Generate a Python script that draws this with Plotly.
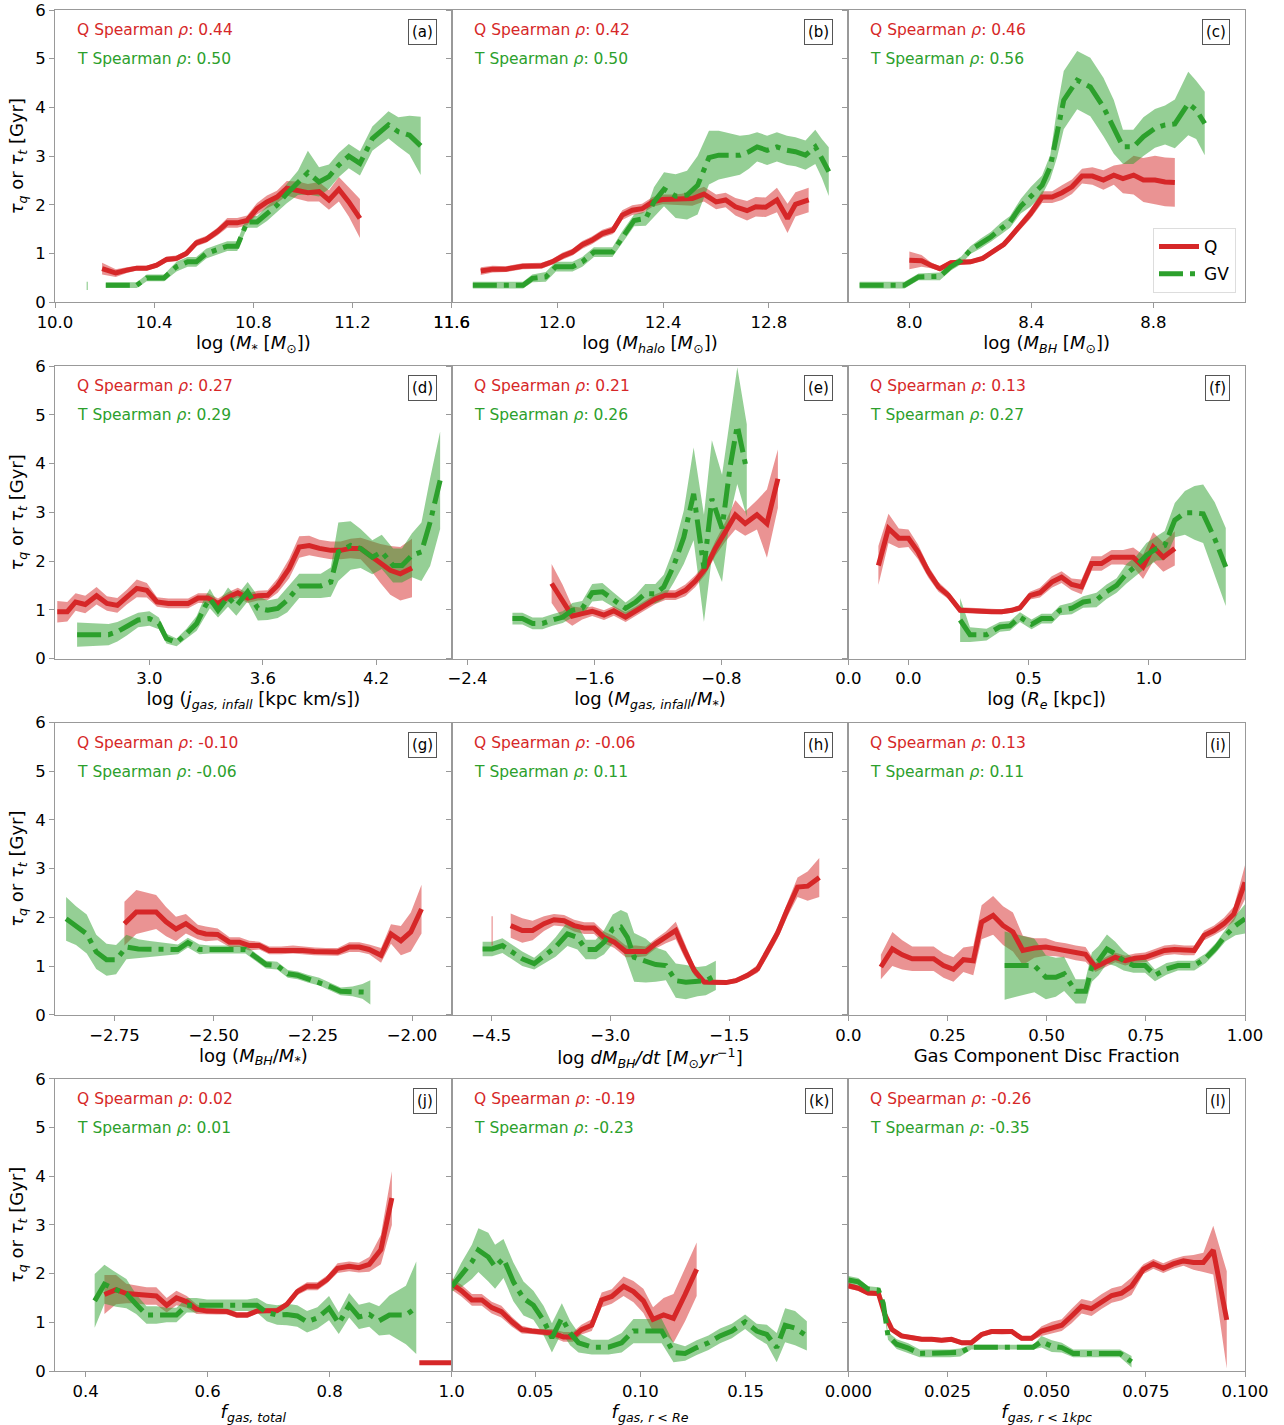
import plotly.graph_objects as go
from plotly.subplots import make_subplots

# ---------------- data ----------------
# (a) log M*
a_q_x = [10.19,10.245,10.29,10.33,10.37,10.41,10.45,10.49,10.53,10.57,10.61,10.655,10.695,10.735,10.775,10.815,10.855,10.895,10.935,10.98,11.02,11.065,11.105,11.145,11.185,11.23]
a_q_y = [0.69,0.60,0.66,0.70,0.70,0.76,0.88,0.90,1.00,1.22,1.29,1.45,1.63,1.63,1.68,1.92,2.06,2.16,2.34,2.30,2.25,2.27,2.10,2.32,2.06,1.72]
a_q_e = [0.12,0.08,0.06,0.05,0.05,0.05,0.06,0.06,0.06,0.07,0.07,0.08,0.1,0.1,0.1,0.12,0.13,0.13,0.15,0.18,0.18,0.2,0.2,0.25,0.3,0.4]
a_gv_x = [10.205,10.33,10.37,10.44,10.49,10.535,10.57,10.61,10.655,10.695,10.735,10.775,10.815,10.855,10.895,10.935,10.98,11.02,11.065,11.105,11.145,11.185,11.23,11.28,11.345,11.385,11.43,11.475]
a_gv_y = [0.35,0.35,0.50,0.50,0.73,0.83,0.83,1.00,1.08,1.15,1.15,1.65,1.65,1.82,1.99,2.23,2.45,2.66,2.47,2.58,2.82,3.00,2.85,3.36,3.64,3.50,3.43,3.21]
a_gv_e = [0.06,0.06,0.07,0.07,0.1,0.1,0.1,0.1,0.1,0.1,0.1,0.12,0.12,0.15,0.15,0.2,0.25,0.45,0.3,0.25,0.25,0.25,0.25,0.25,0.28,0.3,0.4,0.6]
a_gv_stub_x = [10.13, 10.13]
a_gv_stub_y = [0.25, 0.42]

# (b) log M_halo
b_q_x = [11.71,11.755,11.805,11.868,11.94,11.98,12.02,12.057,12.094,12.13,12.17,12.21,12.245,12.283,12.32,12.36,12.397,12.434,12.47,12.51,12.554,12.6,12.636,12.673,12.717,12.75,12.787,12.83,12.87,12.9,12.95]
b_q_y = [0.64,0.68,0.68,0.74,0.75,0.83,0.95,1.03,1.18,1.27,1.41,1.48,1.79,1.89,1.92,2.06,2.11,2.11,2.11,2.13,2.22,2.06,2.10,1.96,1.88,1.96,1.95,2.10,1.72,2.01,2.10]
b_q_e = [0.08,0.07,0.06,0.06,0.06,0.06,0.07,0.07,0.08,0.08,0.08,0.08,0.1,0.1,0.1,0.1,0.1,0.1,0.12,0.15,0.15,0.15,0.15,0.18,0.2,0.2,0.2,0.25,0.3,0.25,0.25]
b_gv_x = [11.68,11.87,11.905,11.956,11.994,12.057,12.094,12.138,12.208,12.245,12.29,12.334,12.365,12.403,12.447,12.49,12.53,12.573,12.61,12.65,12.69,12.724,12.755,12.793,12.83,12.868,12.9,12.938,12.975,13.0,13.026]
b_gv_y = [0.35,0.35,0.49,0.52,0.73,0.73,0.83,1.03,1.03,1.34,1.68,1.72,2.06,2.32,2.18,2.20,2.40,2.97,3.02,3.02,3.02,3.09,3.19,3.12,3.19,3.12,3.09,3.02,3.19,2.95,2.68]
b_gv_e = [0.07,0.07,0.08,0.1,0.1,0.1,0.1,0.1,0.1,0.12,0.12,0.15,0.3,0.35,0.45,0.5,0.6,0.55,0.5,0.45,0.4,0.35,0.3,0.3,0.3,0.3,0.3,0.3,0.35,0.4,0.5]

# (c) log M_BH
c_q_x = [8.0,8.04,8.07,8.10,8.136,8.17,8.2,8.24,8.27,8.31,8.33,8.365,8.397,8.435,8.468,8.5,8.533,8.566,8.6,8.636,8.67,8.7,8.735,8.767,8.805,8.838,8.87]
c_q_y = [0.86,0.85,0.76,0.69,0.81,0.82,0.83,0.90,1.03,1.19,1.33,1.58,1.82,2.16,2.16,2.25,2.37,2.59,2.59,2.51,2.61,2.54,2.61,2.51,2.51,2.47,2.46]
c_q_e = [0.18,0.12,0.06,0.05,0.05,0.05,0.05,0.05,0.05,0.06,0.07,0.08,0.1,0.12,0.12,0.15,0.15,0.15,0.18,0.2,0.2,0.3,0.4,0.45,0.5,0.5,0.5]
c_gv_x = [7.837,7.984,8.03,8.1,8.136,8.17,8.2,8.234,8.267,8.3,8.33,8.365,8.397,8.435,8.462,8.484,8.506,8.55,8.593,8.636,8.67,8.7,8.734,8.767,8.805,8.838,8.87,8.914,8.94,8.968]
c_gv_y = [0.35,0.35,0.52,0.53,0.73,0.86,1.07,1.21,1.34,1.51,1.65,1.97,2.16,2.40,2.78,3.47,4.15,4.56,4.42,4.01,3.60,3.19,3.19,3.40,3.57,3.64,3.66,4.08,3.95,3.67]
c_gv_e = [0.07,0.07,0.07,0.08,0.08,0.08,0.08,0.1,0.1,0.12,0.12,0.15,0.2,0.2,0.25,0.5,0.6,0.6,0.6,0.6,0.55,0.35,0.35,0.4,0.4,0.4,0.5,0.65,0.6,0.65]

# (d) log j_gas,infall
d_q_x = [2.512,2.565,2.609,2.66,2.72,2.775,2.83,2.88,2.933,2.986,3.04,3.1,3.15,3.205,3.258,3.31,3.363,3.416,3.468,3.52,3.574,3.626,3.679,3.74,3.793,3.846,3.9,3.96,4.012,4.065,4.118,4.17,4.223,4.275,4.328,4.39]
d_q_y = [0.96,0.96,1.16,1.11,1.29,1.13,1.09,1.26,1.44,1.40,1.16,1.13,1.13,1.13,1.24,1.24,1.13,1.26,1.35,1.24,1.29,1.30,1.50,1.85,2.29,2.32,2.26,2.22,2.22,2.26,2.26,2.12,1.95,1.81,1.74,1.86]
d_q_e = [0.22,0.2,0.18,0.18,0.18,0.15,0.15,0.15,0.18,0.15,0.1,0.1,0.1,0.1,0.1,0.1,0.1,0.1,0.1,0.1,0.1,0.1,0.15,0.2,0.22,0.2,0.18,0.18,0.18,0.2,0.22,0.3,0.4,0.5,0.55,0.6]
d_gv_x = [2.617,2.784,2.83,2.88,2.94,3.0,3.05,3.09,3.144,3.196,3.25,3.293,3.32,3.363,3.416,3.46,3.52,3.574,3.626,3.679,3.73,3.793,3.846,3.907,3.96,4.0,4.065,4.118,4.18,4.23,4.29,4.337,4.39,4.44,4.486,4.539]
d_gv_y = [0.49,0.49,0.55,0.65,0.79,0.82,0.72,0.41,0.33,0.51,0.72,1.06,1.23,0.99,1.26,1.08,1.37,1.03,0.99,1.03,1.20,1.49,1.49,1.49,1.57,2.19,2.32,2.26,2.08,2.19,1.91,1.91,2.12,2.19,2.80,3.66]
d_gv_e = [0.25,0.22,0.2,0.18,0.15,0.15,0.12,0.1,0.08,0.1,0.15,0.2,0.2,0.15,0.2,0.2,0.2,0.25,0.2,0.2,0.25,0.25,0.25,0.25,0.3,0.6,0.5,0.4,0.35,0.35,0.35,0.35,0.45,0.6,0.9,1.0]

# (e) log M_gas,infall / M*
e_q_x = [-1.87,-1.80,-1.74,-1.677,-1.614,-1.54,-1.478,-1.404,-1.34,-1.28,-1.216,-1.153,-1.09,-1.027,-0.964,-0.9,-0.838,-0.775,-0.712,-0.65,-0.576,-0.513,-0.444]
e_q_y = [1.54,1.16,0.87,0.92,0.97,0.89,0.98,0.85,0.97,1.09,1.22,1.30,1.30,1.40,1.59,1.85,2.26,2.60,2.95,2.77,2.95,2.77,3.69]
e_q_e = [0.4,0.35,0.2,0.12,0.1,0.1,0.1,0.1,0.1,0.1,0.1,0.1,0.1,0.12,0.12,0.12,0.15,0.2,0.3,0.25,0.3,0.7,0.6]
e_gv_x = [-2.117,-2.054,-1.99,-1.928,-1.865,-1.80,-1.74,-1.677,-1.614,-1.55,-1.478,-1.404,-1.34,-1.28,-1.216,-1.163,-1.1,-1.037,-0.975,-0.91,-0.86,-0.796,-0.744,-0.70,-0.64]
e_gv_y = [0.82,0.82,0.72,0.72,0.79,0.85,0.99,1.03,1.35,1.37,1.20,1.03,1.16,1.33,1.33,1.47,1.91,2.49,3.38,1.85,3.28,2.67,3.96,4.78,3.86]
e_gv_e = [0.12,0.12,0.12,0.12,0.12,0.12,0.15,0.15,0.18,0.18,0.15,0.12,0.15,0.2,0.2,0.25,0.35,0.55,0.95,1.1,1.2,1.1,1.0,1.2,0.95]

# (f) log R_e
f_q_x = [-0.125,-0.083,-0.04,0.0,0.04,0.083,0.125,0.166,0.215,0.256,0.305,0.346,0.388,0.43,0.464,0.505,0.547,0.596,0.637,0.679,0.72,0.762,0.803,0.845,0.893,0.935,0.976,1.018,1.06,1.108]
f_q_y = [1.91,2.67,2.47,2.47,2.19,1.78,1.47,1.30,0.99,0.99,0.97,0.96,0.96,0.99,1.04,1.29,1.35,1.57,1.67,1.52,1.47,1.95,1.95,2.08,2.08,2.08,1.88,2.29,2.08,2.26]
f_q_e = [0.4,0.3,0.2,0.18,0.15,0.12,0.1,0.08,0.06,0.05,0.05,0.05,0.05,0.05,0.06,0.08,0.1,0.12,0.12,0.12,0.15,0.15,0.15,0.15,0.15,0.2,0.25,0.3,0.3,0.35]
f_gv_x = [0.215,0.256,0.325,0.38,0.422,0.464,0.512,0.554,0.596,0.63,0.679,0.727,0.782,0.824,0.866,0.907,0.949,0.99,1.032,1.066,1.108,1.15,1.19,1.226,1.274,1.32]
f_gv_y = [0.79,0.49,0.49,0.65,0.67,0.85,0.70,0.82,0.82,0.99,1.03,1.16,1.20,1.37,1.50,1.74,1.91,2.12,2.26,2.32,2.84,2.99,2.99,2.97,2.46,1.88]
f_gv_e = [0.45,0.15,0.12,0.1,0.1,0.1,0.1,0.1,0.1,0.1,0.12,0.12,0.15,0.15,0.15,0.2,0.2,0.25,0.25,0.3,0.35,0.45,0.55,0.6,0.75,0.8]

# (g) log M_BH / M*
g_q_x = [-2.725,-2.695,-2.67,-2.645,-2.62,-2.595,-2.57,-2.54,-2.52,-2.49,-2.46,-2.435,-2.41,-2.385,-2.36,-2.33,-2.30,-2.276,-2.246,-2.217,-2.187,-2.158,-2.133,-2.108,-2.078,-2.053,-2.028,-2.003,-1.976]
g_q_y = [1.87,2.11,2.11,2.11,1.91,1.76,1.87,1.70,1.66,1.65,1.49,1.49,1.42,1.42,1.32,1.32,1.34,1.32,1.30,1.29,1.29,1.39,1.39,1.34,1.22,1.66,1.52,1.70,2.17]
g_q_e = [0.45,0.45,0.4,0.35,0.3,0.25,0.2,0.15,0.15,0.12,0.1,0.1,0.1,0.08,0.08,0.08,0.08,0.08,0.08,0.08,0.08,0.1,0.1,0.1,0.15,0.2,0.3,0.4,0.5]
g_gv_x = [-2.872,-2.847,-2.82,-2.796,-2.77,-2.746,-2.72,-2.69,-2.666,-2.64,-2.616,-2.59,-2.565,-2.536,-2.51,-2.48,-2.452,-2.42,-2.393,-2.368,-2.34,-2.313,-2.288,-2.263,-2.234,-2.204,-2.18,-2.15,-2.125,-2.105]
g_gv_y = [1.97,1.83,1.66,1.29,1.13,1.13,1.39,1.35,1.35,1.34,1.34,1.34,1.48,1.34,1.34,1.34,1.34,1.34,1.18,1.03,1.01,0.84,0.81,0.74,0.68,0.57,0.48,0.48,0.48,0.46]
g_gv_e = [0.45,0.4,0.4,0.35,0.33,0.3,0.25,0.2,0.17,0.15,0.12,0.1,0.1,0.1,0.08,0.08,0.08,0.08,0.08,0.08,0.08,0.08,0.08,0.08,0.08,0.08,0.08,0.1,0.15,0.25]

# (h) log dM_BH/dt
h_q_x = [-4.256,-4.11,-3.98,-3.836,-3.71,-3.583,-3.457,-3.33,-3.205,-3.08,-2.95,-2.805,-2.68,-2.553,-2.427,-2.3,-2.175,-2.07,-1.943,-1.817,-1.69,-1.544,-1.418,-1.27,-1.144,-1.018,-0.892,-0.766,-0.64,-0.513,-0.366]
h_q_y = [1.83,1.73,1.73,1.87,1.95,1.93,1.83,1.78,1.78,1.59,1.49,1.30,1.30,1.30,1.46,1.59,1.73,1.34,0.91,0.67,0.66,0.66,0.70,0.81,0.94,1.29,1.68,2.17,2.62,2.64,2.82]
h_q_e = [0.25,0.25,0.2,0.15,0.12,0.12,0.12,0.12,0.12,0.12,0.12,0.12,0.12,0.1,0.1,0.12,0.18,0.15,0.1,0.05,0.05,0.05,0.05,0.06,0.08,0.1,0.12,0.15,0.2,0.3,0.4]
h_q_stub_x = [-4.49, -4.49]
h_q_stub_y = [1.42, 2.02]
h_gv_x = [-4.61,-4.49,-4.36,-4.235,-4.11,-3.96,-3.815,-3.69,-3.54,-3.415,-3.31,-3.184,-3.078,-2.97,-2.868,-2.785,-2.7,-2.553,-2.427,-2.3,-2.175,-2.048,-1.9,-1.796,-1.67]
h_gv_y = [1.35,1.35,1.42,1.29,1.15,1.05,1.22,1.39,1.66,1.59,1.34,1.34,1.49,1.76,1.80,1.59,1.18,1.11,1.03,1.01,0.70,0.67,0.68,0.70,0.81]
h_gv_e = [0.15,0.15,0.15,0.15,0.15,0.12,0.15,0.2,0.25,0.25,0.2,0.2,0.25,0.3,0.35,0.5,0.5,0.45,0.35,0.3,0.35,0.35,0.3,0.3,0.3]

# (i) gas component disc fraction
i_q_x = [0.082,0.111,0.136,0.161,0.186,0.215,0.24,0.265,0.29,0.315,0.336,0.365,0.39,0.415,0.44,0.469,0.498,0.523,0.548,0.573,0.598,0.623,0.648,0.673,0.698,0.723,0.748,0.773,0.797,0.822,0.847,0.872,0.897,0.922,0.947,0.972,1.0]
i_q_y = [0.98,1.35,1.23,1.15,1.15,1.15,1.01,0.93,1.13,1.11,1.90,2.04,1.83,1.70,1.32,1.37,1.39,1.35,1.32,1.27,1.24,0.98,1.08,1.18,1.11,1.16,1.18,1.25,1.32,1.34,1.32,1.32,1.63,1.73,1.87,2.07,2.72]
i_q_e = [0.25,0.35,0.3,0.25,0.25,0.25,0.25,0.25,0.25,0.3,0.35,0.4,0.4,0.4,0.3,0.2,0.18,0.15,0.15,0.15,0.15,0.1,0.1,0.1,0.1,0.1,0.1,0.1,0.1,0.1,0.1,0.1,0.1,0.1,0.12,0.15,0.35]
i_gv_x = [0.394,0.469,0.498,0.523,0.544,0.573,0.598,0.614,0.631,0.652,0.673,0.694,0.719,0.748,0.773,0.802,0.831,0.872,0.901,0.926,0.951,0.976,1.0]
i_gv_y = [1.01,1.01,0.77,0.77,0.84,0.48,0.48,0.98,1.11,1.35,1.25,1.11,1.01,1.01,0.81,0.94,1.01,1.01,1.16,1.37,1.63,1.83,1.97]
i_gv_e = [0.7,0.55,0.45,0.4,0.35,0.25,0.25,0.3,0.3,0.3,0.25,0.2,0.15,0.15,0.12,0.12,0.1,0.1,0.1,0.1,0.12,0.2,0.3]

# (j) f_gas,total
j_q_x = [0.431,0.45,0.467,0.483,0.5,0.516,0.533,0.549,0.566,0.582,0.599,0.615,0.632,0.648,0.665,0.681,0.697,0.714,0.73,0.747,0.763,0.78,0.796,0.813,0.832,0.848,0.865,0.884,0.902]
j_q_y = [1.57,1.67,1.59,1.57,1.54,1.54,1.35,1.50,1.42,1.27,1.23,1.22,1.22,1.15,1.15,1.23,1.24,1.24,1.37,1.63,1.74,1.74,1.88,2.11,2.15,2.12,2.19,2.49,3.55]
j_q_e = [0.4,0.3,0.2,0.18,0.18,0.18,0.15,0.15,0.12,0.1,0.06,0.06,0.06,0.06,0.06,0.05,0.05,0.06,0.06,0.07,0.08,0.08,0.08,0.1,0.1,0.1,0.15,0.3,0.55]
j_q_tail_x = [0.947, 1.0]
j_q_tail_y = [0.17, 0.17]
j_gv_x = [0.415,0.431,0.45,0.467,0.483,0.5,0.516,0.533,0.549,0.566,0.582,0.599,0.615,0.632,0.648,0.665,0.681,0.697,0.714,0.73,0.747,0.763,0.78,0.799,0.815,0.832,0.848,0.865,0.881,0.898,0.925,0.942]
j_gv_y = [1.44,1.78,1.67,1.59,1.37,1.15,1.15,1.15,1.15,1.35,1.35,1.35,1.35,1.35,1.35,1.35,1.35,1.20,1.15,1.16,1.13,1.01,1.09,1.29,0.98,1.35,1.11,1.16,1.03,1.15,1.15,1.30]
j_gv_e = [0.55,0.4,0.35,0.3,0.2,0.18,0.18,0.15,0.15,0.15,0.15,0.12,0.12,0.12,0.12,0.12,0.15,0.18,0.2,0.22,0.22,0.22,0.22,0.25,0.22,0.25,0.25,0.25,0.3,0.4,0.6,0.95]

# (k) f_gas, r<Re
k_q_x = [0.0104,0.015,0.02,0.0247,0.0294,0.034,0.039,0.0437,0.0484,0.053,0.058,0.0635,0.068,0.072,0.0769,0.0816,0.0864,0.092,0.0967,0.1014,0.106,0.111,0.1157,0.1212,0.1267]
k_q_y = [1.79,1.65,1.46,1.46,1.30,1.22,1.01,0.85,0.82,0.80,0.78,0.70,0.70,0.85,0.94,1.46,1.53,1.74,1.63,1.44,1.06,1.15,1.08,1.57,2.09]
k_q_e = [0.12,0.12,0.12,0.12,0.12,0.12,0.1,0.08,0.06,0.06,0.08,0.1,0.1,0.1,0.12,0.15,0.15,0.2,0.22,0.25,0.25,0.35,0.5,0.55,0.55]
k_gv_x = [0.0104,0.015,0.02,0.0231,0.0278,0.031,0.035,0.0397,0.0445,0.0492,0.054,0.058,0.0627,0.0666,0.0706,0.0769,0.0848,0.0911,0.0967,0.1022,0.1101,0.1157,0.1212,0.1267,0.1323,0.1378,0.1434,0.1497,0.1552,0.16,0.1647,0.1687,0.1734,0.179]
k_gv_y = [1.73,1.97,2.24,2.48,2.34,2.14,2.31,1.83,1.49,1.35,1.04,0.68,1.09,0.78,0.58,0.49,0.49,0.58,0.82,0.82,0.82,0.38,0.36,0.48,0.58,0.72,0.82,1.01,0.82,0.75,0.48,0.94,0.88,0.72]
k_gv_e = [0.1,0.25,0.35,0.45,0.5,0.45,0.4,0.4,0.35,0.3,0.3,0.3,0.3,0.25,0.2,0.15,0.15,0.2,0.25,0.25,0.25,0.2,0.15,0.15,0.15,0.15,0.15,0.15,0.15,0.2,0.3,0.35,0.35,0.3]

# (l) f_gas, r<1kpc
l_q_x = [0.0,0.0025,0.005,0.0076,0.0092,0.011,0.0134,0.016,0.0185,0.021,0.0235,0.026,0.0286,0.031,0.0336,0.0361,0.0387,0.0412,0.0437,0.0462,0.0487,0.0513,0.0538,0.0563,0.0588,0.0613,0.0639,0.0664,0.0689,0.0714,0.0744,0.0769,0.0794,0.0819,0.0845,0.087,0.0895,0.092,0.0954]
l_q_y = [1.75,1.70,1.60,1.59,1.16,0.85,0.72,0.68,0.65,0.65,0.63,0.65,0.58,0.58,0.75,0.81,0.80,0.81,0.67,0.67,0.82,0.89,0.94,1.13,1.33,1.28,1.43,1.55,1.60,1.74,2.09,2.20,2.11,2.20,2.26,2.23,2.23,2.48,1.05]
l_q_e = [0.06,0.05,0.05,0.05,0.05,0.05,0.05,0.05,0.05,0.05,0.05,0.05,0.05,0.05,0.05,0.05,0.05,0.05,0.05,0.05,0.1,0.12,0.12,0.15,0.15,0.15,0.15,0.15,0.15,0.18,0.1,0.1,0.1,0.1,0.1,0.15,0.2,0.5,1.0]
l_gv_x = [0.0,0.0025,0.005,0.0076,0.0088,0.01,0.0122,0.0151,0.018,0.0256,0.0282,0.031,0.0408,0.0466,0.0487,0.0513,0.0538,0.0567,0.0609,0.0685,0.0714]
l_gv_y = [1.87,1.83,1.68,1.66,1.39,0.72,0.55,0.47,0.36,0.36,0.38,0.49,0.49,0.49,0.60,0.51,0.48,0.36,0.36,0.36,0.19]
l_gv_e = [0.08,0.08,0.06,0.06,0.06,0.08,0.1,0.1,0.08,0.08,0.08,0.05,0.05,0.05,0.12,0.12,0.1,0.08,0.08,0.08,0.12]

# Spearman coefficients (Q, T)
rho_q = ["0.44", "0.42", "0.46", "0.27", "0.21", "0.13", "-0.10", "-0.06", "0.13", "0.02", "-0.19", "-0.26"]
rho_t = ["0.50", "0.50", "0.56", "0.29", "0.26", "0.27", "-0.06", "0.11", "0.11", "0.01", "-0.23", "-0.35"]
letters = ["a", "b", "c", "d", "e", "f", "g", "h", "i", "j", "k", "l"]

x_titles = [
    "log (<i>M</i><sub>*</sub> [<i>M</i><sub>⊙</sub>])",
    "log (<i>M<sub>halo</sub></i> [<i>M</i><sub>⊙</sub>])",
    "log (<i>M<sub>BH</sub></i> [<i>M</i><sub>⊙</sub>])",
    "log (<i>j<sub>gas, infall</sub></i> [kpc km/s])",
    "log (<i>M<sub>gas, infall</sub></i>/<i>M</i><sub>*</sub>)",
    "log (<i>R<sub>e</sub></i> [kpc])",
    "log (<i>M<sub>BH</sub></i>/<i>M</i><sub>*</sub>)",
    "log <i>dM<sub>BH</sub>/dt</i> [<i>M</i><sub>⊙</sub><i>yr</i><sup>−1</sup>]",
    "Gas Component Disc Fraction",
    "<i>f<sub>gas, total</sub></i>",
    "<i>f<sub>gas, r &lt; Re</sub></i>",
    "<i>f<sub>gas, r &lt; 1kpc</sub></i>",
]
y_title = "<i>τ<sub>q</sub></i> or <i>τ<sub>t</sub></i> [Gyr]"

x_ranges = [[10.0, 11.6], [11.6, 13.1], [7.8, 9.1],
            [2.5, 4.6], [-2.5, 0.0], [-0.25, 1.4],
            [-2.9, -1.9], [-5.0, 0.0], [0.0, 1.0],
            [0.35, 1.0], [0.0104, 0.1987], [0.0, 0.1]]
x_tickvals = [[10.0, 10.4, 10.8, 11.2, 11.6], [11.6, 12.0, 12.4, 12.8], [8.0, 8.4, 8.8],
              [3.0, 3.6, 4.2], [-2.4, -1.6, -0.8, 0.0], [0.0, 0.5, 1.0],
              [-2.75, -2.5, -2.25, -2.0], [-4.5, -3.0, -1.5, 0.0], [0.25, 0.5, 0.75, 1.0],
              [0.4, 0.6, 0.8, 1.0], [0.05, 0.10, 0.15], [0.0, 0.025, 0.05, 0.075, 0.1]]
x_fmts = [".1f", ".1f", ".1f", ".1f", ".1f", ".1f", ".2f", ".1f", ".2f", ".1f", ".2f", ".3f"]
y_ticks = [0, 1, 2, 3, 4, 5, 6]

q_data = [(a_q_x, a_q_y, a_q_e), (b_q_x, b_q_y, b_q_e), (c_q_x, c_q_y, c_q_e),
          (d_q_x, d_q_y, d_q_e), (e_q_x, e_q_y, e_q_e), (f_q_x, f_q_y, f_q_e),
          (g_q_x, g_q_y, g_q_e), (h_q_x, h_q_y, h_q_e), (i_q_x, i_q_y, i_q_e),
          (j_q_x, j_q_y, j_q_e), (k_q_x, k_q_y, k_q_e), (l_q_x, l_q_y, l_q_e)]
gv_data = [(a_gv_x, a_gv_y, a_gv_e), (b_gv_x, b_gv_y, b_gv_e), (c_gv_x, c_gv_y, c_gv_e),
           (d_gv_x, d_gv_y, d_gv_e), (e_gv_x, e_gv_y, e_gv_e), (f_gv_x, f_gv_y, f_gv_e),
           (g_gv_x, g_gv_y, g_gv_e), (h_gv_x, h_gv_y, h_gv_e), (i_gv_x, i_gv_y, i_gv_e),
           (j_gv_x, j_gv_y, j_gv_e), (k_gv_x, k_gv_y, k_gv_e), (l_gv_x, l_gv_y, l_gv_e)]

# ---------------- styling ----------------
RED = "#d62728"
GREEN = "#2ca02c"
RED_BAND = "rgba(214,39,40,0.5)"
GREEN_BAND = "rgba(44,160,44,0.5)"
FRAME = "#999999"
FONT = "DejaVu Sans"
GV_DASH = "24px,7px,5px,7px"
TICK_SIZE = 16.5
TITLE_SIZE = 18

W, H = 1284, 1425
ML, MR, MT, MB = 55, 39, 10, 54
plot_h = H - MT - MB
plot_w = W - ML - MR

fig = make_subplots(rows=4, cols=3, horizontal_spacing=0,
                    vertical_spacing=64 / plot_h)


def band(xs, ys, es, color, row, col):
    hi = [y + e for y, e in zip(ys, es)]
    lo = [y - e for y, e in zip(ys, es)]
    fig.add_trace(go.Scatter(x=list(xs) + list(xs)[::-1], y=hi + lo[::-1],
                             fill="toself", fillcolor=color, mode="lines",
                             line=dict(width=0), hoverinfo="skip",
                             showlegend=False), row=row, col=col)


def stub(xs, ys, color, row, col):
    fig.add_trace(go.Scatter(x=xs, y=ys, mode="lines", line=dict(color=color, width=1.2),
                             hoverinfo="skip", showlegend=False), row=row, col=col)


for i in range(12):
    row, col = i // 3 + 1, i % 3 + 1
    qx, qy, qe = q_data[i]
    gx, gy, ge = gv_data[i]
    band(qx, qy, qe, RED_BAND, row, col)
    band(gx, gy, ge, GREEN_BAND, row, col)
    if i == 0:
        stub(a_gv_stub_x, a_gv_stub_y, GREEN_BAND, row, col)
    if i == 7:
        stub(h_q_stub_x, h_q_stub_y, RED_BAND, row, col)
    fig.add_trace(go.Scatter(x=qx, y=qy, mode="lines", name="Q",
                             line=dict(color=RED, width=5),
                             showlegend=(i == 2), legendgroup="Q"),
                  row=row, col=col)
    if i == 9:
        fig.add_trace(go.Scatter(x=j_q_tail_x, y=j_q_tail_y, mode="lines",
                                 line=dict(color=RED, width=5),
                                 showlegend=False), row=row, col=col)
    fig.add_trace(go.Scatter(x=gx, y=gy, mode="lines", name="GV",
                             line=dict(color=GREEN, width=5, dash=GV_DASH),
                             showlegend=(i == 2), legendgroup="GV"),
                  row=row, col=col)

    fig.update_xaxes(row=row, col=col, range=x_ranges[i], tickvals=x_tickvals[i],
                     tickformat=x_fmts[i], showgrid=False, zeroline=False,
                     showline=True, mirror=True, linecolor=FRAME, linewidth=1,
                     ticks="outside", ticklen=5, tickcolor=FRAME, automargin=False,
                     tickfont=dict(family=FONT, size=TICK_SIZE, color="black"),
                     title=dict(text=x_titles[i], standoff=2,
                                font=dict(family=FONT, size=TITLE_SIZE, color="black")))
    yargs = dict(range=[0, 6], tickvals=y_ticks,
                 showgrid=False, zeroline=False, automargin=False,
                 showline=True, mirror=True, linecolor=FRAME, linewidth=1,
                 ticks="outside", ticklen=5, tickcolor=FRAME,
                 showticklabels=(col == 1),
                 tickfont=dict(family=FONT, size=TICK_SIZE, color="black"))
    if col == 1:
        yargs["title"] = dict(text=y_title, standoff=6,
                              font=dict(family=FONT, size=TITLE_SIZE, color="black"))
    fig.update_yaxes(row=row, col=col, **yargs)

    n = "" if i == 0 else str(i + 1)
    fig.add_annotation(xref=f"x{n} domain", yref=f"y{n} domain", x=0, y=1,
                       xanchor="left", yanchor="middle", xshift=20, yshift=-20,
                       text=f"Q Spearman <i>ρ</i>: {rho_q[i]}", showarrow=False,
                       font=dict(family=FONT, size=15.5, color=RED))
    fig.add_annotation(xref=f"x{n} domain", yref=f"y{n} domain", x=0, y=1,
                       xanchor="left", yanchor="middle", xshift=20, yshift=-49,
                       text=f"T Spearman <i>ρ</i>: {rho_t[i]}", showarrow=False,
                       font=dict(family=FONT, size=15.5, color=GREEN))
    fig.add_annotation(xref=f"x{n} domain", yref=f"y{n} domain", x=1, y=1,
                       xanchor="right", yanchor="top", xshift=-15, yshift=-9,
                       text=f"({letters[i]})", showarrow=False,
                       bordercolor="#555555", borderwidth=1, borderpad=3,
                       bgcolor="white",
                       font=dict(family=FONT, size=15, color="black"))

fig.update_layout(
    width=W, height=H,
    margin=dict(l=ML, r=MR, t=MT, b=MB, autoexpand=False),
    paper_bgcolor="white", plot_bgcolor="white",
    font=dict(family=FONT, size=16, color="black"),
    legend=dict(x=(1236 - ML) / plot_w, y=(H - MB - 293) / plot_h,
                xanchor="right", yanchor="bottom", itemwidth=40,
                bgcolor="white", bordercolor="#dddddd", borderwidth=1,
                font=dict(family=FONT, size=17, color="black"),
                tracegroupgap=2),
)

# remove the default 8 px page margin so the figure sits at the window origin
fig.write_html("out.html", config={"displayModeBar": False},
               post_script="document.body.style.margin='0px';")
